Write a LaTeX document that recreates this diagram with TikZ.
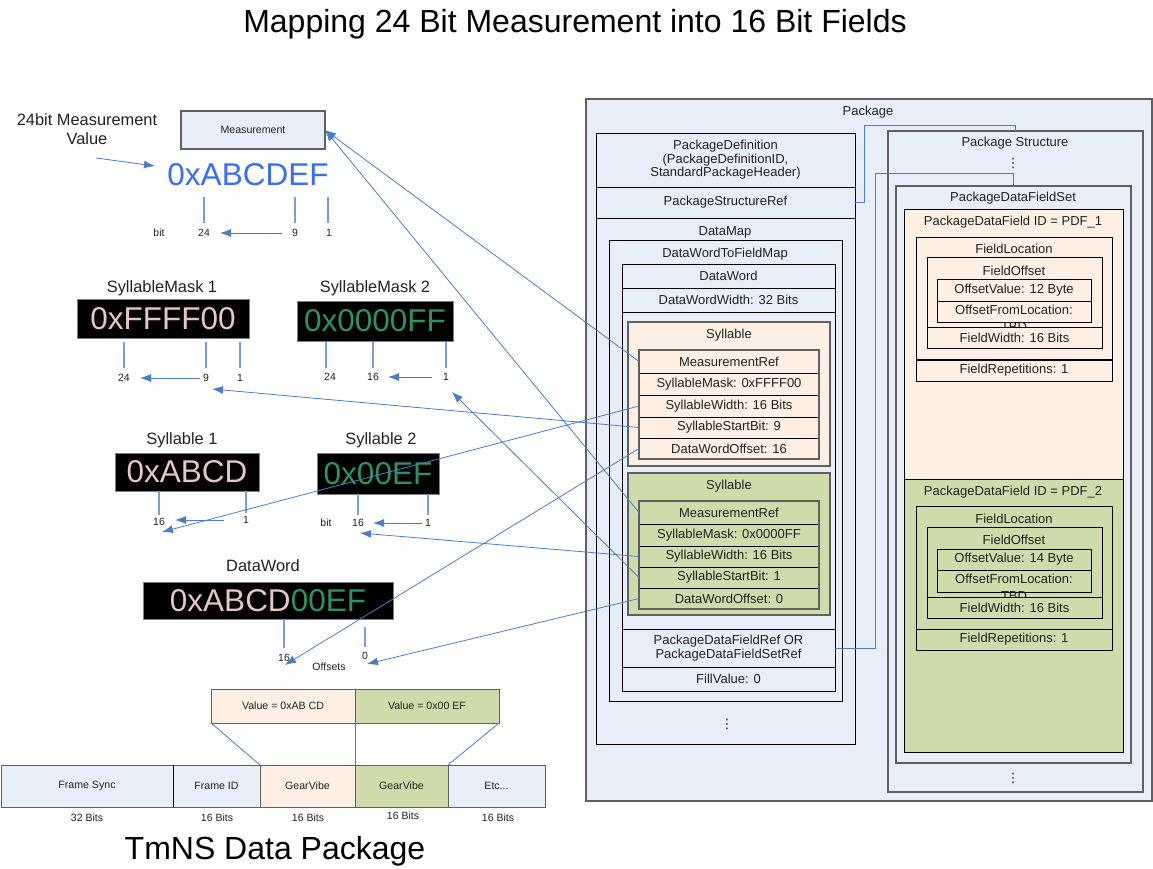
\documentclass[tikz,border=0pt]{standalone}
\usepackage{fontspec}
\setmainfont{Liberation Sans}
\newfontfamily\dvs{DejaVu Sans}
\usetikzlibrary{arrows.meta}
\definecolor{pkgbg}{HTML}{E8EEF8}
\definecolor{peach}{HTML}{FDEFE3}
\definecolor{leaf}{HTML}{CDDCAA}
\definecolor{cblue}{HTML}{4A7EC4}
\definecolor{tblue}{HTML}{7A9FD8}
\definecolor{txtc}{HTML}{222222}
\definecolor{gryb}{HTML}{606060}
\definecolor{hexblue}{HTML}{3A6EF2}
\definecolor{hexpink}{HTML}{E8C6C4}
\definecolor{hexgreen}{HTML}{2E9160}
\tikzset{
  bx/.style={draw=black, line width=0.8pt, rectangle, inner sep=0pt, outer sep=0pt, anchor=north west, text=txtc, font=\fontsize{13}{13.5}\selectfont, align=center},
  lbl/.style={inner sep=0pt, text=txtc, font=\fontsize{13}{15}\selectfont},
  vdt/.style={inner sep=0pt, text=txtc, font=\dvs\fontsize{13}{15}\selectfont},
  sm/.style={inner sep=1pt, text=txtc, font=\fontsize{10.5}{12}\selectfont},
  smb/.style={font=\fontsize{10.6}{12}\selectfont},
  big/.style={inner sep=0pt, text=txtc, font=\fontsize{16.4}{19}\selectfont},
  hex/.style={font=\fontsize{31.5}{36}\selectfont},
  blk/.style={bx, fill=black, draw=gray},
  conn/.style={draw=cblue, line width=0.8pt},
  arr/.style={conn, -{Latex[length=11pt,width=8pt]}},
  tick/.style={draw=tblue, line width=1.3pt},
  gframe/.style={draw=gryb, line width=1.4pt},
}
\newcommand\bxn[7][]{\node[bx,#1,minimum width={#5pt-#3pt},minimum height={#6pt-#4pt}] (#2) at (#3,#4) {#7};}
\begin{document}
\begin{tikzpicture}[x=1pt,y=-1pt]
\useasboundingbox[fill=white] (0,0) rectangle (1153,869);
% titles
\node[anchor=base, font=\fontsize{32}{36}\selectfont] (title) at (575,33) {Mapping 24 Bit Measurement into 16 Bit Fields};
\node[anchor=base, font=\fontsize{32}{36}\selectfont] (foot) at (275,859) {TmNS Data Package};

% ---------------- measurement ----------------
\node[big, align=center] (mvl) at (87,129) {24bit Measurement\\Value};
\coordinate (mvs) at (96,158);
\coordinate (mve) at (155,166);
\draw[arr] (mvs) -- (mve);
\bxn[fill=pkgbg,draw=gryb,line width=1.4pt,smb]{mbox}{181}{111}{325}{149}{Measurement}
\node[hex,text=hexblue] (hexm) at (248,175) {0xABCDEF};
\draw[tick] (204,197) -- (204,223);
\draw[tick] (295,197) -- (295,223);
\draw[tick] (328,197) -- (328,223);
\node[sm] (mbit) at (159,233) {bit};
\node[sm] (m24) at (204,233) {24};
\node[sm] (m9) at (295,233) {9};
\node[sm] (m1) at (329,233) {1};
\draw[arr, shorten <=9pt, shorten >=9pt] (m9) -- (m24);

% ---------------- syllable mask 1 ----------------
\node[big] (k1l) at (162,288) {SyllableMask 1};
\bxn[blk,hex,text=hexpink]{k1}{77}{299}{249}{338}{0xFFFF00}
\draw[tick] (124,342) -- (124,368);
\draw[tick] (206,342) -- (206,368);
\draw[tick] (240,342) -- (240,368);
\node[sm] (k124) at (124,378) {24};
\node[sm] (k19) at (206,378) {9};
\node[sm] (k11) at (240,378) {1};
\draw[arr, shorten <=2pt, shorten >=9pt] (k19) -- (k124);

% ---------------- syllable mask 2 ----------------
\node[big] (k2l) at (375,288) {SyllableMask 2};
\bxn[blk,hex,text=hexgreen]{k2}{297}{301}{453}{341}{0x0000FF}
\draw[tick] (326,342) -- (326,368);
\draw[tick] (373,342) -- (373,368);
\draw[tick] (446,342) -- (446,368);
\node[sm] (k224) at (330,377) {24};
\node[sm] (k216) at (373,377) {16};
\node[sm] (k21) at (446,377) {1};
\draw[arr, shorten <=10pt, shorten >=8pt] (k21) -- (k216);

% ---------------- syllable 1 ----------------
\node[big] (y1l) at (182,440) {Syllable 1};
\bxn[blk,hex,text=hexpink]{y1}{115}{453}{259}{491}{0xABCD}
\draw[tick] (159,491) -- (159,515);
\draw[tick] (246,491) -- (246,513);
\node[sm] (y116) at (159,522) {16};
\node[sm] (y11) at (246,520) {1};
\draw[arr, shorten <=18pt, shorten >=9pt] (y11.west |- 0,520) -- (y116.east |- 0,520);

% ---------------- syllable 2 ----------------
\node[big] (y2l) at (381,440) {Syllable 2};
\bxn[blk,hex,text=hexgreen]{y2}{317}{453}{439}{494}{0x00EF}
\draw[tick] (358,494) -- (358,515);
\draw[tick] (428,494) -- (428,515);
\node[sm] (y2bit) at (326,523) {bit};
\node[sm] (y216) at (358,523) {16};
\node[sm] (y21) at (428,523) {1};
\draw[arr, shorten <=2pt, shorten >=8pt] (y21) -- (y216);

% ---------------- data word ----------------
\node[big] (dwl) at (263,566) {DataWord};
\bxn[blk,hex,text=hexpink]{dwb}{143}{582}{393}{619}{0xABCD\textcolor{hexgreen}{00EF}}
\draw[tick] (284,619) -- (284,648);
\draw[tick] (365,627) -- (365,647);
\node[sm] (dw16) at (284,658) {16};
\node[sm] (dw0) at (365,656) {0};
\node[sm] (offs) at (329,667) {Offsets};

% ---------------- packet ----------------
\bxn[fill=peach,draw=gryb,smb]{val1}{211}{689}{355}{723}{Value = 0xAB CD}
\bxn[fill=leaf,draw=gryb,smb]{val2}{355}{689}{499}{723}{Value = 0x00 EF}
\bxn[fill=pkgbg,draw=gryb,smb]{fsync}{1}{765}{173}{807}{Frame Sync}
\bxn[fill=pkgbg,draw=gryb,smb]{fid}{173}{765}{260}{807}{Frame ID}
\bxn[fill=peach,draw=gryb,smb]{gv1}{260}{765}{355}{807}{GearVibe}
\bxn[fill=leaf,draw=gryb,smb]{gv2}{355}{765}{448}{807}{GearVibe}
\bxn[fill=pkgbg,draw=gryb,smb]{etc}{448}{765}{545}{807}{Etc...}
\draw[black,line width=0.8pt] (173,765) -- (173,807);
\node[sm] (b1) at (87,818) {32 Bits};
\node[sm] (b2) at (217,818) {16 Bits};
\node[sm] (b3) at (308,818) {16 Bits};
\node[sm] (b4) at (403,816) {16 Bits};
\node[sm] (b5) at (498,818) {16 Bits};
\draw[conn] (val1.south west) -- (gv1.north west);
\draw[conn] (val1.south east) -- (gv2.north west);
\draw[conn] (val2.south east) -- (gv2.north east);

% ---------------- package ----------------
\bxn[fill=pkgbg,draw=gryb,line width=1.6pt]{pkg}{586}{99}{1152}{801}{}
\node[lbl] (pkgl) at (868,112) {Package};
\bxn[fill=pkgbg]{pdef}{596}{133}{855}{187}{PackageDefinition\\(PackageDefinitionID,\\StandardPackageHeader)}
\bxn[fill=pkgbg]{psr}{596}{187}{855}{218}{PackageStructureRef}
\bxn[fill=pkgbg]{dmap}{596}{218}{855}{744}{}
\node[lbl] (dmapl) at (725,232) {DataMap};
\bxn[fill=pkgbg]{dwfm}{609}{240}{842}{701}{}
\node[lbl] (dwfml) at (725,254) {DataWordToFieldMap};
\bxn[fill=pkgbg]{dw}{622}{264}{835}{288}{DataWord}
\bxn[fill=pkgbg]{dww}{622}{288}{835}{312}{DataWordWidth: 32 Bits}
\bxn[fill=pkgbg]{dwa}{622}{312}{835}{629}{}
\bxn[fill=pkgbg]{pdfref}{622}{629}{835}{667}{PackageDataFieldRef OR\\PackageDataFieldSetRef}
\bxn[fill=pkgbg]{fillv}{622}{667}{835}{691}{FillValue: 0}
\node[vdt] (dots1) at (727,724) {⋮};

% syllable (peach)
\bxn[fill=peach,draw=gryb,line width=1.4pt]{syl1}{628}{322}{830}{466}{}
\node[lbl] (syl1l) at (729,335) {Syllable};
\bxn[fill=peach]{s1a}{639}{350}{819}{373}{MeasurementRef}
\bxn[fill=peach]{s1b}{639}{373}{819}{395}{SyllableMask: 0xFFFF00}
\bxn[fill=peach]{s1c}{639}{395}{819}{417}{SyllableWidth: 16 Bits}
\bxn[fill=peach]{s1d}{639}{417}{819}{438}{SyllableStartBit: 9}
\bxn[fill=peach]{s1e}{639}{438}{819}{459}{DataWordOffset: 16}
\draw[gframe] (s1a.north west) rectangle (s1e.south east);

% syllable (green)
\bxn[fill=leaf,draw=gryb,line width=1.4pt]{syl2}{628}{473}{830}{615}{}
\node[lbl] (syl2l) at (729,486) {Syllable};
\bxn[fill=leaf]{s2a}{639}{501}{819}{524}{MeasurementRef}
\bxn[fill=leaf]{s2b}{639}{524}{819}{546}{SyllableMask: 0x0000FF}
\bxn[fill=leaf]{s2c}{639}{546}{819}{567}{SyllableWidth: 16 Bits}
\bxn[fill=leaf]{s2d}{639}{567}{819}{588}{SyllableStartBit: 1}
\bxn[fill=leaf]{s2e}{639}{588}{819}{609}{DataWordOffset: 0}
\draw[gframe] (s2a.north west) rectangle (s2e.south east);

% right column
\bxn[fill=pkgbg,draw=gryb,line width=1.2pt]{pstr}{888}{131}{1143}{792}{}
\node[lbl] (pstrl) at (1015,143) {Package Structure};
\node[vdt] (dots2) at (1013,163) {⋮};
\node[vdt] (dots3) at (1013,778) {⋮};
\bxn[fill=pkgbg,draw=gryb,line width=1.2pt]{pset}{896}{186}{1131}{763}{}
\node[lbl] (psetl) at (1013,198) {PackageDataFieldSet};

% PDF_1
\bxn[fill=peach]{pdf1}{904}{209}{1123}{479}{}
\node[lbl] (pdf1l) at (1013,222) {PackageDataField ID = PDF\_1};
\bxn[fill=peach]{fl1}{916}{237}{1112}{360}{}
\node[lbl] (fl1l) at (1014,249) {FieldLocation};
\bxn[fill=peach]{fr1}{916}{360}{1112}{381}{FieldRepetitions: 1}
\draw[black,line width=2pt] (fr1.north west) -- (fr1.north east);
\bxn[fill=peach]{fo1}{927}{257}{1102}{348}{}
\node[lbl] (fo1l) at (1014,271) {FieldOffset};
\bxn[fill=peach]{ov1}{937}{279}{1091}{301}{OffsetValue: 12 Byte}
\bxn[fill=peach]{ofl1}{937}{301}{1091}{322}{}
\node[lbl, align=center, anchor=north, font=\fontsize{13}{17}\selectfont] (ofl1t) at (1014,305) {OffsetFromLocation:\\TBD};
\bxn[fill=peach]{fw1}{927}{327}{1102}{348}{FieldWidth: 16 Bits}

% PDF_2
\bxn[fill=leaf]{pdf2}{904}{479}{1123}{752}{}
\node[lbl] (pdf2l) at (1013,492) {PackageDataField ID = PDF\_2};
\bxn[fill=leaf]{fl2}{916}{506}{1112}{629}{}
\node[lbl] (fl2l) at (1014,519) {FieldLocation};
\bxn[fill=leaf]{fr2}{916}{629}{1112}{650}{FieldRepetitions: 1}
\bxn[fill=leaf]{fo2}{927}{527}{1102}{618}{}
\node[lbl] (fo2l) at (1014,540) {FieldOffset};
\bxn[fill=leaf]{ov2}{937}{549}{1091}{570}{OffsetValue: 14 Byte}
\bxn[fill=leaf]{ofl2}{937}{570}{1091}{592}{}
\node[lbl, align=center, anchor=north, font=\fontsize{13}{17}\selectfont] (ofl2t) at (1014,574) {OffsetFromLocation:\\TBD};
\bxn[fill=leaf]{fw2}{927}{597}{1102}{618}{FieldWidth: 16 Bits}

% ---------------- connectors ----------------
\coordinate (j1) at (864,125);
\draw[conn] (psr.east) -| (j1) -| (pstr.north);
\coordinate (j2) at (875,173);
\draw[conn] (pdfref.east) -| (j2) -| (pset.north);

\coordinate (t2) at (212,389);
\coordinate (t3) at (162,532);
\coordinate (t4) at (285,665);
\coordinate (t6) at (360,533);
\coordinate (t7) at (452,392);
\coordinate (t8) at (367,664);
\draw[arr] (s1a.west) -- (mbox.east);
\draw[arr] (s1d.west) -- (t2);
\draw[arr] (s1c.west) -- (t3);
\draw[arr] (s1e.west) -- (t4);
\draw[arr] (s2a.west) -- (mbox.east);
\draw[arr] (s2c.west) -- (t6);
\draw[arr] (s2d.west) -- (t7);
\draw[arr] (s2e.west) -- (t8);
\end{tikzpicture}
\end{document}
